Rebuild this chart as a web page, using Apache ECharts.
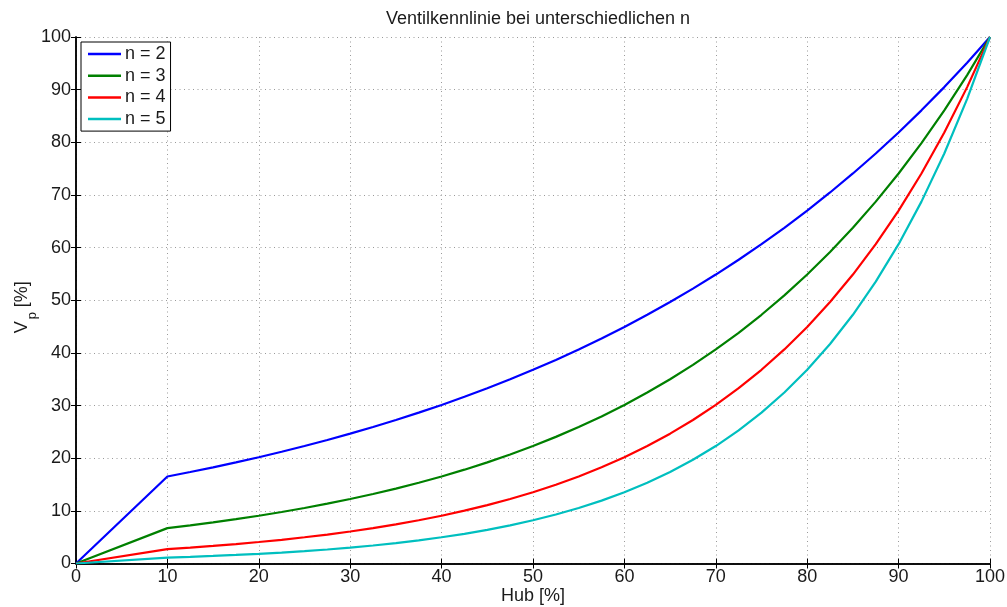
<!DOCTYPE html>
<html><head><meta charset="utf-8">
<script src="https://cdn.jsdelivr.net/npm/echarts@6/dist/echarts.min.js"></script>
<style>html,body{margin:0;padding:0;background:#fff}#c{width:1007px;height:607px}</style>
</head><body><div id="c"></div>
<script>
const titleText = 'Ventilkennlinie bei unterschiedlichen n';
const xName = 'Hub [%]';
const seriesNames = ['n = 2', 'n = 3', 'n = 4', 'n = 5'];
const hub = [0,10,12.5,15,17.5,20,22.5,25,27.5,30,32.5,35,37.5,40,42.5,45,47.5,50,52.5,55,57.5,60,62.5,65,67.5,70,72.5,75,77.5,80,82.5,85,87.5,90,92.5,95,97.5,100];
const n2 = [0,16.53,17.38,18.27,19.20,20.19,21.22,22.31,23.46,24.66,25.92,27.25,28.65,30.12,31.66,33.29,34.99,36.79,38.67,40.66,42.74,44.93,47.24,49.66,52.20,54.88,57.69,60.65,63.76,67.03,70.47,74.08,77.88,81.87,86.07,90.48,95.12,100];
const n3 = [0,6.72,7.24,7.81,8.42,9.07,9.78,10.54,11.36,12.25,13.20,14.23,15.34,16.53,17.82,19.20,20.70,22.31,24.05,25.92,27.94,30.12,32.47,34.99,37.72,40.66,43.82,47.24,50.92,54.88,59.16,63.76,68.73,74.08,79.85,86.07,92.77,100];
const n4 = [0,2.73,3.02,3.34,3.69,4.08,4.50,4.98,5.50,6.08,6.72,7.43,8.21,9.07,10.03,11.08,12.25,13.53,14.96,16.53,18.27,20.19,22.31,24.66,27.25,30.12,33.29,36.79,40.66,44.93,49.66,54.88,60.65,67.03,74.08,81.87,90.48,100];
const n5 = [0,1.11,1.26,1.43,1.62,1.83,2.08,2.35,2.66,3.02,3.42,3.88,4.39,4.98,5.64,6.39,7.24,8.21,9.30,10.54,11.94,13.53,15.34,17.38,19.70,22.31,25.28,28.65,32.47,36.79,41.69,47.24,53.53,60.65,68.73,77.88,88.25,100];
const colors = ['#0000ff', '#008000', '#ff0000', '#00bfbf'];
const values = [n2, n3, n4, n5];

const font = 'Liberation Sans, Arial, Helvetica, sans-serif';
const chart = echarts.init(document.getElementById('c'), null, {renderer: 'canvas'});
const tick = {show: true, inside: true, length: 5, lineStyle: {color: '#000', width: 1}};
const grid = {show: true, type: [1, 3.5], color: '#9a9a9a', width: 1};
chart.setOption({
  animation: false,
  backgroundColor: '#fff',
  title: {text: titleText, left: 533, top: 5, textAlign: 'center',
    textStyle: {fontFamily: font, fontSize: 18, fontWeight: 'normal', color: '#1a1a1a'}},
  grid: {left: 76, right: 17, top: 37, bottom: 43.5, containLabel: false, outerBoundsMode: 'none'},
  legend: {
    orient: 'vertical', left: 81, top: 42, padding: [3, 5, 3, 7],
    backgroundColor: '#fff', borderColor: '#000', borderWidth: 1, borderRadius: 0,
    icon: 'rect', itemWidth: 33, itemHeight: 2.5, itemGap: 3.7,
    textStyle: {fontFamily: font, fontSize: 18, color: '#1a1a1a', padding: [0, 0, 0, -1]},
    data: seriesNames
  },
  xAxis: [
    {type: 'value', min: 0, max: 100, interval: 10, position: 'bottom',
     name: xName, nameLocation: 'middle', nameGap: 23.5, nameMoveOverlap: false,
     nameTextStyle: {fontFamily: font, fontSize: 18, color: '#1a1a1a'},
     axisLine: {show: true, lineStyle: {color: '#000', width: 1.5}},
     axisTick: tick,
     axisLabel: {fontFamily: font, fontSize: 18, color: '#1a1a1a', margin: 5},
     splitLine: {show: true, lineStyle: grid}},
    {type: 'value', min: 0, max: 100, interval: 10, position: 'top',
     axisLine: {show: true, lineStyle: {color: '#000', width: 1.5}},
     axisTick: tick, axisLabel: {show: false}, splitLine: {show: false}}
  ],
  yAxis: [
    {type: 'value', min: 0, max: 100, interval: 10, position: 'left',
     name: '{a|V}{b|p}{a| [%]}', nameLocation: 'middle', nameGap: 37, nameRotate: 90, nameMoveOverlap: false,
     nameTextStyle: {padding: [0, 14, 0, 0], rich: {
       a: {fontFamily: font, fontSize: 18, color: '#1a1a1a'},
       b: {fontFamily: font, fontSize: 13, color: '#1a1a1a', padding: [20, 0, 0, 2]}
     }},
     axisLine: {show: true, lineStyle: {color: '#000', width: 1.5}},
     axisTick: tick,
     axisLabel: {fontFamily: font, fontSize: 18, color: '#1a1a1a', margin: 5},
     splitLine: {show: true, lineStyle: grid}},
    {type: 'value', min: 0, max: 100, interval: 10, position: 'right',
     axisLine: {show: true, lineStyle: {color: '#000', width: 1.5}},
     axisTick: tick, axisLabel: {show: false}, splitLine: {show: false}}
  ],
  series: values.map((v, i) => ({
    name: seriesNames[i], type: 'line', xAxisIndex: 0, yAxisIndex: 0,
    data: hub.map((h, k) => [h, v[k]]),
    showSymbol: false, symbol: 'none', smooth: false,
    itemStyle: {color: colors[i]},
    lineStyle: {color: colors[i], width: 2.2}
  }))
});
</script></body></html>
